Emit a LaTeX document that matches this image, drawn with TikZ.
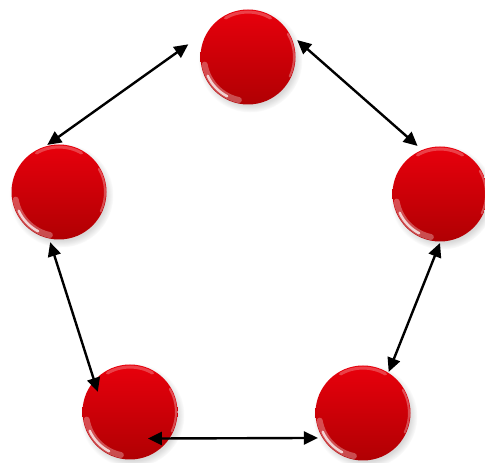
\documentclass[tikz,border=0pt]{standalone}
\definecolor{bolatop}{HTML}{E8000C}
\definecolor{bolamid}{HTML}{DA0008}
\definecolor{bolabot}{HTML}{B00003}
\usetikzlibrary{calc, arrows.meta, shadows}

\begin{document}
\begin{tikzpicture}[x=1pt, y=1pt,
  bola/.style={circle, minimum size=95pt, inner sep=0pt,
               top color=bolatop, middle color=bolamid, bottom color=bolabot,
               circular drop shadow={shadow xshift=2pt, shadow yshift=-3pt, opacity=.3},
               path picture={
                 \coordinate (c) at (path picture bounding box.center);
                 \draw[white, opacity=.3, line width=6pt, line cap=round] ($(c)+(190:44)$) arc (190:258:44);
                 \draw[white, opacity=.75, line width=2.5pt, line cap=round] ($(c)+(205:44.5)$) arc (205:242:44.5);
                 \draw[white, opacity=.25, line width=3pt, line cap=round] ($(c)+(60:45)$) arc (60:120:45);
                 \draw[white, opacity=.3, line width=2pt, line cap=round] ($(c)+(-25:46)$) arc (-25:30:46);
               }},
  enlace/.style={{Triangle[length=14pt,width=13pt]}-{Triangle[length=14pt,width=13pt]},
                 line width=2.4pt, black},
]
\useasboundingbox (0,0) rectangle (485,463);

\node[bola] (arriba) at (248,406) {};
\node[bola] (izq)    at (59,271)  {};
\node[bola] (der)    at (440,269) {};
\node[bola] (abizq)  at (130,51)  {};
\node[bola] (abder)  at (363,50)  {};

% flechas entre vecinas
\draw[enlace] ($(arriba)+(168:61)$) -- ($(izq)+(104:48.5)$);
\draw[enlace] ($(arriba)+(19:52)$)  -- ($(der)+(115:53)$);
\draw[enlace] ($(izq)+(260:51)$)    -- ($(abizq)+(148:38)$);
\draw[enlace] ($(der)+(270:49)$)    -- ($(abder)+(58:48.5)$);
\draw[enlace] ($(abizq)+(304:32)$)  -- ($(abder)+(209:51.5)$);
\end{tikzpicture}
\end{document}
